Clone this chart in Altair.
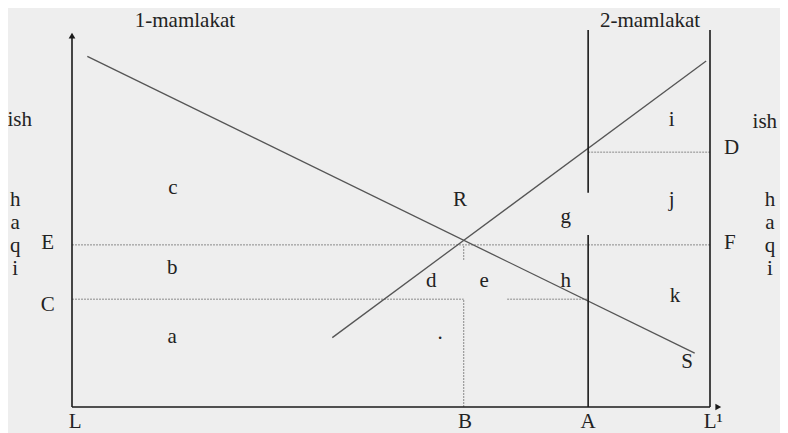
import altair as alt
import pandas as pd

# ---- data (abstract diagram coordinates: labour on x 0..100, wage on y 0..100) ----
# solid frame lines
frame_x  = [0,   0,   100, 80.9, 80.9]
frame_y  = [0,   0,   0,   0,    56.8]
frame_x2 = [0,   100, 100, 80.9, 80.9]
frame_y2 = [98,  0,   100, 45.6, 100]

# demand/supply curves
curve_x  = [2.4, 40.8]
curve_y  = [93.0, 18.4]
curve_x2 = [97.6, 99.4]
curve_y2 = [14.3, 91.8]

# dotted guide lines (E, C, D levels and B drop)
guide_x  = [0,    0,    68.2, 80.9, 61.4, 61.4]
guide_y  = [43.0, 28.6, 28.6, 67.6, 0,    39.0]
guide_x2 = [100,  61.4, 80.9, 100,  61.4, 61.4]
guide_y2 = [43.0, 28.6, 28.6, 67.6, 28.6, 43.0]

# arrow heads
arrow_x = [0, 101.3]
arrow_y = [98.5, 0]
arrow_shape = ["triangle-up", "triangle-right"]

# labels
lab_text = ["1-mamlakat", "2-mamlakat", "ish", "ish",
            "h", "a", "q", "i", "h", "a", "q", "i",
            "E", "C", "L", "B", "A", "L\u00b9",
            "c", "b", "a", "R", "g", "d", "e", "h", "k", "j", "i",
            "D", "F", "S", "."]
lab_x = [17.7, 90.6, -8.2, 108.6,
         -8.9, -8.9, -8.9, -8.9, 109.4, 109.4, 109.4, 109.4,
         -3.8, -3.8, 0.5, 61.6, 80.9, 100.5,
         15.8, 15.7, 15.7, 60.8, 77.4, 56.3, 64.6, 77.4, 94.5, 94.0, 94.0,
         103.4, 103.1, 96.4, 57.7]
lab_y = [102.4, 102.4, 76.1, 75.6,
         54.9, 48.8, 42.7, 36.6, 54.9, 48.8, 42.7, 36.6,
         43.5, 27.1, -3.9, -3.9, -3.9, -3.9,
         58.0, 36.9, 18.6, 54.9, 50.4, 33.4, 33.4, 33.4, 29.4, 54.9, 76.1,
         68.7, 43.5, 11.9, 19.5]

frame = pd.DataFrame({"x": frame_x, "y": frame_y, "x2": frame_x2, "y2": frame_y2})
curves = pd.DataFrame({"x": curve_x, "y": curve_y, "x2": curve_x2, "y2": curve_y2})
guides = pd.DataFrame({"x": guide_x, "y": guide_y, "x2": guide_x2, "y2": guide_y2})
arrows = pd.DataFrame({"x": arrow_x, "y": arrow_y, "shape": arrow_shape})
labels = pd.DataFrame({"x": lab_x, "y": lab_y, "t": lab_text})

xs = alt.Scale(domain=[0, 100], nice=False, zero=False)
ys = alt.Scale(domain=[0, 100], nice=False, zero=False)

def seg(df, color, width, dash=None):
    kw = dict(color=color, strokeWidth=width, clip=False)
    if dash:
        kw["strokeDash"] = dash
    return alt.Chart(df).mark_rule(**kw).encode(
        x=alt.X("x:Q", scale=xs, axis=None),
        y=alt.Y("y:Q", scale=ys, axis=None),
        x2="x2:Q", y2="y2:Q")

frame_layer = seg(frame, "#1a1a1a", 1.6)
curve_layer = seg(curves, "#555555", 1.3)
guide_layer = seg(guides, "#8a8a8a", 1.0, [2, 1])

arrow_layer = alt.Chart(arrows).mark_point(filled=True, color="#1a1a1a", size=45,
                                           opacity=1, clip=False).encode(
    x=alt.X("x:Q", scale=xs, axis=None),
    y=alt.Y("y:Q", scale=ys, axis=None),
    shape=alt.Shape("shape:N", scale=None, legend=None))

label_layer = alt.Chart(labels).mark_text(font="Liberation Serif", fontSize=21,
                                          color="#222222", baseline="middle",
                                          align="center", clip=False).encode(
    x=alt.X("x:Q", scale=xs, axis=None),
    y=alt.Y("y:Q", scale=ys, axis=None),
    text="t:N")

chart = alt.layer(guide_layer, curve_layer, frame_layer, arrow_layer, label_layer).properties(
    width=638, height=377,
    autosize=alt.AutoSizeParams(type="none"),
    padding={"left": 64, "top": 22, "right": 70, "bottom": 26},
    background="#eeeeee",
).configure_view(stroke=None)

chart.save("out.html", embed_options={"renderer": "svg", "actions": False})
